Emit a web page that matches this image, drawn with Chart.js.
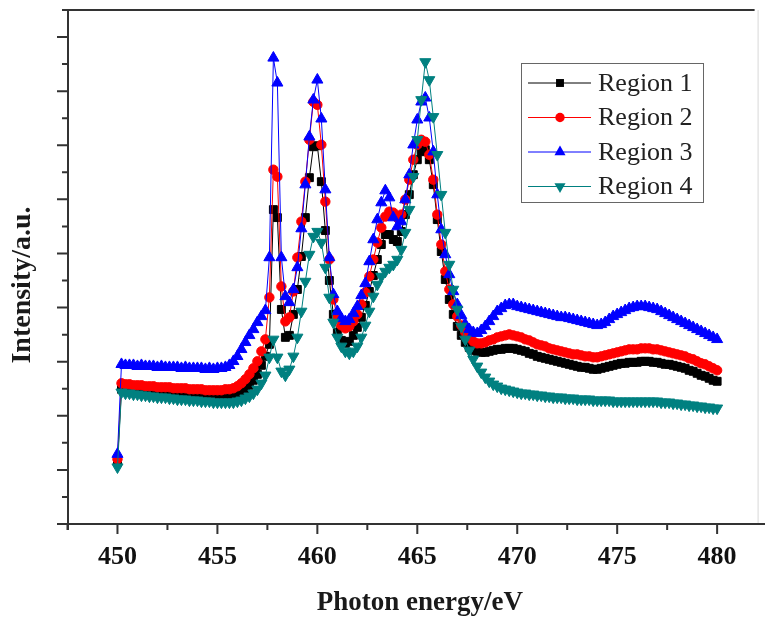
<!DOCTYPE html>
<html>
<head>
<meta charset="utf-8">
<title>Intensity vs photon energy</title>
<script src="https://cdn.jsdelivr.net/npm/chart.js@4.4.1/dist/chart.umd.min.js"></script>
<style>
  html, body { margin: 0; padding: 0; background: #fff; }
  #wrap { width: 765px; height: 622px; }
</style>
</head>
<body>
<div id="wrap"><canvas id="chart" width="765" height="622"></canvas></div>
<script>
// =====================================================
// Data (photon energy in eV, intensity in arbitrary units)
// =====================================================
const ENERGY = [
  450.0,450.2,450.4,450.6,450.8,451.0,451.2,451.4,451.6,451.8,
  452.0,452.2,452.4,452.6,452.8,453.0,453.2,453.4,453.6,453.8,
  454.0,454.2,454.4,454.6,454.8,455.0,455.2,455.4,455.6,455.8,
  456.0,456.2,456.4,456.6,456.8,457.0,457.2,457.4,457.6,457.8,
  458.0,458.2,458.4,458.6,458.8,459.0,459.2,459.4,459.6,459.8,
  460.0,460.2,460.4,460.6,460.8,461.0,461.2,461.4,461.6,461.8,
  462.0,462.2,462.4,462.6,462.8,463.0,463.2,463.4,463.6,463.8,
  464.0,464.2,464.4,464.6,464.8,465.0,465.2,465.4,465.6,465.8,
  466.0,466.2,466.4,466.6,466.8,467.0,467.2,467.4,467.6,467.8,
  468.0,468.2,468.4,468.6,468.8,469.0,469.2,469.4,469.6,469.8,
  470.0,470.2,470.4,470.6,470.8,471.0,471.2,471.4,471.6,471.8,
  472.0,472.2,472.4,472.6,472.8,473.0,473.2,473.4,473.6,473.8,
  474.0,474.2,474.4,474.6,474.8,475.0,475.2,475.4,475.6,475.8,
  476.0,476.2,476.4,476.6,476.8,477.0,477.2,477.4,477.6,477.8,
  478.0,478.2,478.4,478.6,478.8,479.0,479.2,479.4,479.6,479.8,
  480.0
];

const REGION_1 = [
  62,135,135,134,134,134,133,133,133,132,
  132,132,132,131,131,131,131,130,130,130,
  130,130,129,129,129,129,129,129,129,129,
  130,132,135,139,144,150,159,168,180,315,
  307,215,187,189,210,235,268,307,347,378,
  379,343,294,244,210,192,184,181,183,189,
  197,207,219,233,249,265,280,290,290,285,
  283,293,310,330,350,365,373,375,365,340,
  305,273,245,225,210,198,189,182,177,174,
  173,172,172,173,174,175,175,176,176,176,
  175,174,173,171,170,168,167,166,165,164,
  163,162,161,160,159,158,157,157,156,155,
  155,156,157,158,159,160,161,161,162,162,
  162,163,163,163,162,162,161,160,160,159,
  158,157,156,154,153,151,149,148,146,144,
  143
];

const REGION_2 = [
  65,141,140,140,139,139,139,138,138,138,
  137,137,137,137,136,136,136,136,135,135,
  135,135,134,134,134,134,134,135,135,136,
  138,141,145,150,156,163,173,185,227,355,
  348,238,203,207,233,267,303,343,385,423,
  420,380,323,265,225,207,199,196,198,203,
  210,220,232,248,265,282,297,308,313,312,
  307,310,325,345,365,380,385,383,370,345,
  310,280,253,235,220,208,199,192,187,183,
  181,181,182,184,185,187,188,189,190,189,
  188,187,185,184,182,180,179,178,176,175,
  174,173,172,171,170,170,169,168,168,167,
  167,168,169,170,171,172,173,174,175,175,
  175,176,176,176,175,175,174,173,172,171,
  170,169,168,166,165,163,161,160,158,156,
  154
];

const REGION_3 = [
  70,160,159,159,159,158,159,158,158,158,
  157,158,157,157,157,157,156,157,156,156,
  156,156,155,156,155,156,156,157,159,163,
  168,175,182,189,195,202,208,214,267,467,
  442,267,228,222,235,257,296,340,388,425,
  445,406,335,267,230,213,206,203,205,211,
  218,229,241,263,285,305,322,334,327,307,
  298,303,325,350,380,405,423,427,407,373,
  330,295,270,250,233,220,209,200,195,192,
  191,194,198,203,208,213,216,219,220,220,
  218,217,216,215,214,213,212,211,210,209,
  208,207,207,206,205,204,203,202,201,200,
  199,200,202,205,208,210,212,214,216,217,
  218,218,218,217,216,215,213,211,209,207,
  205,203,201,199,197,195,193,191,189,187,
  185
];

const REGION_4 = [
  57,132,131,131,130,130,129,129,128,128,
  127,127,127,126,126,125,125,125,124,124,
  124,123,123,123,122,122,122,122,122,122,
  123,124,126,128,131,135,141,149,167,185,
  167,153,149,155,168,187,213,243,270,288,
  293,282,257,227,202,187,178,173,171,173,
  178,187,199,213,228,240,248,253,257,260,
  265,275,292,315,348,385,425,463,445,408,
  370,330,292,260,235,215,198,185,174,165,
  158,152,147,143,140,138,136,135,134,133,
  132,131,131,130,130,129,129,128,128,127,
  127,127,126,126,126,125,125,125,125,124,
  124,124,124,124,123,123,123,123,123,123,
  123,123,123,123,123,123,122,122,122,121,
  121,120,120,119,119,118,118,117,117,116,
  116
];

const SERIES_NAMES = ["Region 1", "Region 2", "Region 3", "Region 4"];
const X_TICKS = [450, 455, 460, 465, 470, 475, 480];
const X_MIN = 447.525, X_MAX = 482.025;
const Y_MAX = 515;            // intensity axis has no numbers, 19 tick steps
const Y_TICK_COUNT = 19;

const X_TITLE = "Photon energy/eV";
const Y_TITLE = "Intensity/a.u.";

// =====================================================
// Styling
// =====================================================
const SERIF = "'Liberation Serif', 'Times New Roman', serif";
const AXIS_COLOR = "#333";

const STYLES = [
  { color: "#000000", pointStyle: "rect",     radius: 5.6, rotation: 0,   order: 4 },
  { color: "#ff0000", pointStyle: "circle",   radius: 4.7, rotation: 0,   order: 3 },
  { color: "#0000ff", pointStyle: "triangle", radius: 6.4, rotation: 0,   order: 2 },
  { color: "#008080", pointStyle: "triangle", radius: 6.4, rotation: 180, order: 1 }
];

function toPoints(values){
  return values.map((v, i) => ({ x: ENERGY[i], y: v }));
}

const SERIES = [REGION_1, REGION_2, REGION_3, REGION_4];

const datasets = SERIES.map((vals, i) => ({
  label: SERIES_NAMES[i],
  data: toPoints(vals),
  borderColor: STYLES[i].color,
  backgroundColor: STYLES[i].color,
  borderWidth: 1,
  pointStyle: STYLES[i].pointStyle,
  pointRadius: STYLES[i].radius,
  pointRotation: STYLES[i].rotation,
  pointBorderWidth: 1,
  pointBorderColor: STYLES[i].color,
  pointBackgroundColor: STYLES[i].color,
  tension: 0,
  order: STYLES[i].order
}));

// =====================================================
// Frame, tick marks, titles and legend
// =====================================================
const framePlugin = {
  id: "frame",
  afterDraw(chart){
    const ctx = chart.ctx;
    const { left, right, top, bottom } = chart.chartArea;
    const xs = chart.scales.x, ys = chart.scales.y;
    ctx.save();

    // faint right border
    ctx.strokeStyle = "#d8d8d8";
    ctx.lineWidth = 1;
    ctx.beginPath();
    ctx.moveTo(right + 0.5, top);
    ctx.lineTo(right + 0.5, bottom);
    ctx.stroke();

    ctx.strokeStyle = AXIS_COLOR;
    ctx.lineWidth = 2;
    ctx.beginPath();
    // left axis, bottom axis, top border
    ctx.moveTo(left, top);
    ctx.lineTo(left, bottom + 6);
    ctx.moveTo(left - 11, bottom);
    ctx.lineTo(chart.width, bottom);
    ctx.moveTo(left - 6, top);
    ctx.lineTo(right - 3, top);

    // x ticks (major every 5, minor every 2.5)
    for(let v = 447.5; v <= X_MAX; v += 2.5){
      const px = xs.getPixelForValue(v);
      const len = (v % 5 === 0) ? 10 : 6;
      ctx.moveTo(px, bottom);
      ctx.lineTo(px, bottom + len);
    }
    // y ticks
    for(let i = 1; i < Y_TICK_COUNT; i++){
      const py = ys.getPixelForValue(i * Y_MAX / Y_TICK_COUNT);
      const len = (i % 2 === 0) ? 11 : 6;
      ctx.moveTo(left - len, py);
      ctx.lineTo(left, py);
    }
    ctx.stroke();

    // axis titles
    ctx.fillStyle = "#1a1a1a";
    ctx.textAlign = "center";
    ctx.textBaseline = "middle";
    ctx.font = `bold 27px ${SERIF}`;
    ctx.fillText(X_TITLE, (left + right) / 2 + 7, 603);
    ctx.save();
    ctx.translate(23, 285);
    ctx.rotate(-Math.PI / 2);
    ctx.font = `bold 28px ${SERIF}`;
    ctx.fillText(Y_TITLE, 0, 0);
    ctx.restore();

    // legend box
    const box = { x: 521.5, y: 63.5, w: 182, h: 139 };
    ctx.fillStyle = "#fff";
    ctx.fillRect(box.x, box.y, box.w, box.h);
    ctx.strokeStyle = "#666";
    ctx.lineWidth = 1;
    ctx.strokeRect(box.x, box.y, box.w, box.h);

    const drawPoint = Chart.helpers && Chart.helpers.drawPoint;
    SERIES_NAMES.forEach((name, i) => {
      const st = STYLES[i];
      const y = 83 + i * 34.5;
      ctx.strokeStyle = st.color;
      ctx.lineWidth = 1;
      ctx.beginPath();
      ctx.moveTo(528, y);
      ctx.lineTo(591, y);
      ctx.stroke();
      ctx.fillStyle = st.color;
      if(drawPoint){
        drawPoint(ctx, { pointStyle: st.pointStyle, rotation: st.rotation, radius: st.radius, borderWidth: 0 }, 560, y);
      }
      ctx.fillStyle = "#222";
      ctx.textAlign = "left";
      ctx.textBaseline = "middle";
      ctx.font = `26px ${SERIF}`;
      ctx.fillText(name, 598, y + 1);
    });

    ctx.restore();
  }
};

// =====================================================
// Chart
// =====================================================
new Chart(document.getElementById("chart"), {
  type: "line",
  data: { datasets },
  options: {
    responsive: false,
    animation: false,
    devicePixelRatio: 1,
    layout: { padding: { top: 10, right: 7, left: 0, bottom: 0 } },
    plugins: {
      legend: { display: false },
      tooltip: { enabled: false }
    },
    scales: {
      x: {
        type: "linear",
        min: X_MIN,
        max: X_MAX,
        afterBuildTicks: s => { s.ticks = X_TICKS.map(v => ({ value: v })); },
        afterFit: s => { s.height = 98; },
        grid: { display: false, drawTicks: false },
        border: { display: false },
        ticks: {
          color: "#111",
          font: { family: SERIF, size: 26, weight: "bold" },
          padding: 18,
          maxRotation: 0,
          autoSkip: false
        }
      },
      y: {
        type: "linear",
        min: 0,
        max: Y_MAX,
        afterFit: s => { s.width = 68; },
        ticks: { display: false },
        grid: { display: false, drawTicks: false },
        border: { display: false }
      }
    }
  },
  plugins: [framePlugin]
});
</script>
</body>
</html>
